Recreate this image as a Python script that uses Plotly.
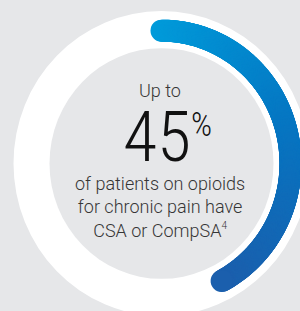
import numpy as np
import plotly.graph_objects as go

# ---- data ----
labels = ["CSA or CompSA"]
values = [45]          # percent of patients
total = [100]

# ---- layout helpers (pixel geometry of the 300x311 canvas) ----
W, H = 300, 311
CX, CY = 161.5, 163.5      # centre in px
SY = 1.03                  # vertical px per unit
BG = "#e6e7e9"

def px_x(px):
    return px - CX

def px_y(py):
    return (CY - py) / SY

R_OUT, R_IN = 148, 112     # white track
R_ARC, ARC_W = 129, 22     # blue arc centreline radius, width (px)

fig = go.Figure()

# white track and inner disc
fig.add_shape(type="circle", xref="x", yref="y", x0=-R_OUT, x1=R_OUT, y0=-R_OUT, y1=R_OUT,
              fillcolor="white", line_width=0, layer="below")
fig.add_shape(type="circle", xref="x", yref="y", x0=-R_IN, x1=R_IN, y0=-R_IN, y1=R_IN,
              fillcolor=BG, line_width=0, layer="below")

# blue gradient arc representing the value (round caps included in the arc length)
cap_deg = np.degrees((ARC_W / 2) / R_ARC)
end_deg = values[0] / total[0] * 360 - 2 * cap_deg
theta = np.linspace(0, end_deg, 400)
th = np.radians(theta)
fig.add_trace(go.Scatter(
    x=R_ARC * np.sin(th), y=R_ARC * np.cos(th), mode="markers",
    marker=dict(size=ARC_W, color=theta, colorscale=[[0, "#019bda"], [0.5, "#0676c2"], [1, "#1b5fad"]],
                line_width=0, showscale=False),
    hoverinfo="skip", cliponaxis=False, showlegend=False, name=labels[0]))

TXT = "#363636"
BODY = dict(family="Roboto", size=18, color=TXT, weight=300)
BIG = dict(family="Roboto Condensed", size=70, color="#111111", weight=300)
fig.add_annotation(x=px_x(160), y=px_y(90), text="Up to", showarrow=False,
                   font=BODY, xanchor="center", yanchor="middle")
fig.add_annotation(x=px_x(193), y=px_y(137), text=f"{values[0]}", showarrow=False,
                   font=BIG, xanchor="right", yanchor="middle")
fig.add_annotation(x=px_x(189), y=px_y(124), text="%", showarrow=False,
                   font=dict(BIG, size=33), xanchor="left", yanchor="middle")
fig.add_annotation(x=px_x(160), y=px_y(207),
                   text="of patients on opioids<br>for chronic pain have<br>CSA or CompSA<sup><span style='font-size:10px'>4</span></sup>",
                   showarrow=False, align="center",
                   font=BODY, xanchor="center", yanchor="middle")

fig.update_layout(
    width=W, height=H, margin=dict(l=0, r=0, t=0, b=0),
    paper_bgcolor=BG, plot_bgcolor=BG,
    xaxis=dict(range=[px_x(0), px_x(W)], visible=False, fixedrange=True),
    yaxis=dict(range=[px_y(H), px_y(0)], visible=False, fixedrange=True),
    showlegend=False,
)
fig.write_html("out.html", config={"displayModeBar": False},
               post_script="document.body.style.margin='0';")
